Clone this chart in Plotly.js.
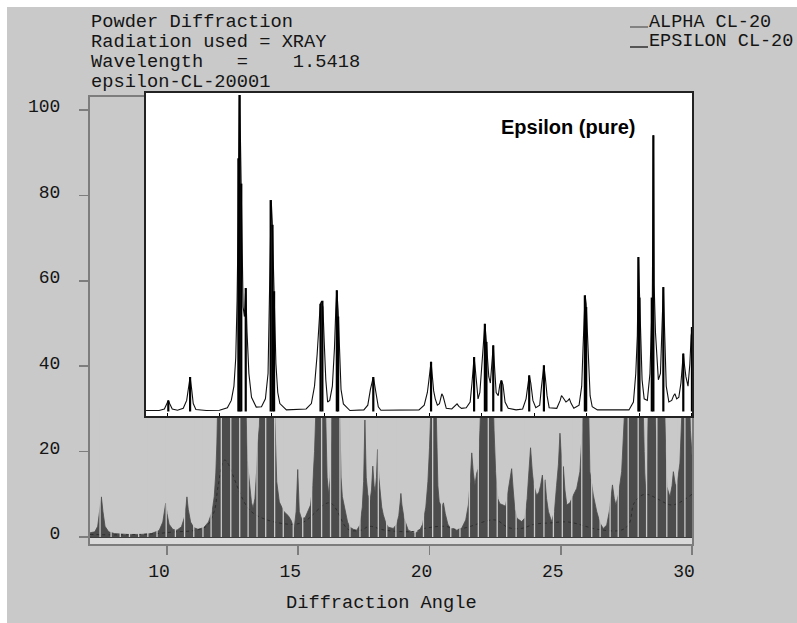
<!DOCTYPE html>
<html>
<head>
<meta charset="utf-8">
<script src="https://cdn.plot.ly/plotly-3.0.1.min.js"></script>
<style>html,body{margin:0;padding:0;background:#fff;}#chart{width:797px;height:623px;}</style>
</head>
<body>
<div id="chart"></div>
<script>
// ---------------- DATA ----------------
// Main measured pattern (grey filled profile), 2-theta vs intensity
const mainX = [7.07,7.25,7.36,7.44,7.50,7.56,7.64,7.78,8.00,8.50,9.00,9.40,9.70,9.84,9.91,9.95,10.00,10.08,10.22,10.38,
  10.55,10.66,10.72,10.76,10.81,10.90,11.02,11.18,11.40,11.58,11.72,11.80,11.86,11.90,11.96,12.10,12.30,12.45,12.55,12.75,
  12.95,13.02,13.06,13.10,13.15,13.22,13.28,13.35,13.41,13.46,13.52,13.58,13.80,14.02,14.10,14.14,14.18,14.28,14.45,14.62,
  14.72,14.85,14.92,14.98,15.04,15.12,15.26,15.40,15.47,15.55,15.62,15.70,15.85,15.95,16.05,16.10,16.16,16.22,16.28,16.45,
  16.58,16.63,16.68,16.78,16.88,16.97,17.10,17.23,17.35,17.44,17.49,17.54,17.59,17.65,17.73,17.79,17.84,17.89,17.93,17.98,
  18.02,18.07,18.12,18.18,18.24,18.34,18.43,18.62,18.75,18.83,18.88,18.91,18.95,19.03,19.19,19.45,19.62,19.74,19.86,19.94,
  20.00,20.08,20.20,20.28,20.32,20.37,20.46,20.53,20.60,20.70,20.80,21.04,21.22,21.38,21.48,21.55,21.61,21.67,21.73,21.80,
  21.86,21.92,22.02,22.12,22.22,22.30,22.40,22.46,22.52,22.60,22.68,22.80,22.90,23.00,23.08,23.13,23.19,23.25,23.33,23.51,
  23.64,23.72,23.77,23.85,23.92,23.98,24.08,24.17,24.23,24.30,24.35,24.40,24.46,24.53,24.65,24.76,24.84,24.91,24.97,25.02,
  25.07,25.10,25.16,25.23,25.35,25.48,25.61,25.73,25.82,25.95,26.05,26.11,26.24,26.37,26.50,26.62,26.75,26.85,26.92,26.97,
  27.04,27.10,27.20,27.32,27.42,27.60,27.80,27.90,27.97,28.05,28.18,28.22,28.28,28.35,28.50,28.62,28.66,28.72,28.90,29.00,
  29.04,29.16,29.24,29.29,29.36,29.42,29.54,29.62,29.72,29.82,29.88,29.94,30.00];
const mainY = [1.0,1.2,2.5,6.0,9.4,6.0,2.5,1.2,0.8,0.6,0.6,0.8,1.5,3.5,6.0,7.9,5.5,3.0,1.8,1.6,
  2.4,4.5,7.0,9.4,6.5,3.5,2.2,1.8,2.2,3.5,6.0,9.5,15,22,40,60,55,40,60,100,
  45,28,18,15.3,12.5,8.0,6.8,9.0,15,22,26,40,70,60,30,18,13,8.2,6.0,5.0,
  4.0,2.2,6,15.8,6,4.4,4.5,6.5,7.5,12,20,35,60,55,30,14,10,14,30,60,
  30,14,9.5,6.5,3.5,2.3,1.8,1.6,2.8,7,13,27.4,14,10,8.3,11,16.6,12,10.6,14,
  20.5,14,10,7,5.2,3.2,2.3,2.0,3.0,5.0,8.0,10.2,7.5,4.4,1.6,0.9,1.5,3.0,7.0,13,
  20.9,35,45,25,12,8.3,7.0,8.0,5.5,3.0,2.0,1.6,2.0,4.0,7.5,13,19.7,15,12.2,15,
  16,25,45,50,35,45,40,25,15.3,9.0,7.8,7.5,7.2,11,14,16,11,6.5,4.4,3.6,
  4.5,9,13.8,20.9,15,12,9.8,10.5,12,14.5,12.5,13.4,9,6,3.6,6,12,16.9,24.3,18,
  15,16.5,11,7.5,8.0,9.8,11.4,15.3,25,45,35,15.3,9.8,6.0,3.2,2.0,2.8,6,10,12.2,
  9,7.5,10,15.3,28,45,55,35,30,55,20,11,16,35,60,30,16.4,40,45,20,
  11.8,9.4,12,15.3,12.5,11.8,17.3,30,45,30,40,25,19];

// Alpha CL-20 reference curve (dashed, visible in the valleys)
const alphaX = [7.07,8.00,9.00,9.60,10.30,11.00,11.50,11.80,11.95,12.20,13.20,14.60,15.20,16.20,16.90,17.40,17.70,18.30,19.40,19.80,
  20.60,21.00,21.40,22.50,23.00,23.50,24.00,24.60,25.30,26.40,27.30,27.60,27.80,28.20,29.20,29.50,30.00];
const alphaY = [0.6,0.5,0.6,0.8,1.2,1.5,2.5,6.0,12,18,6,3.0,3.5,8,1.8,1.6,2.5,1.6,1.3,2.0,
  2.5,1.8,2.2,4,2.2,2.0,3.0,3.3,3.5,1.8,1.6,3.0,8,10,7.5,8,10];

// Light vertical stripes across the grey profile
const stripeX = [7.45,7.87,8.22,8.57,8.92,9.27,9.62,9.97,10.32,10.67,11.02,11.37,11.68,12.07,12.43,12.77,13.09,13.43,13.76,14.10,
  14.43,14.81,15.17,15.51,15.89,16.23,16.59,16.97,17.35,17.71,18.05,18.37,18.72,19.07,19.45,19.77,20.12,20.46,20.81,21.16,
  21.52,21.86,22.24,22.58,22.94,23.30,23.64,24.00,24.36,24.72,25.06,25.42,25.80,26.18,26.50,26.88,27.19,27.57,27.95,28.27,
  28.66,29.04,29.42,29.73];

// Inset: Epsilon (pure) calculated profile
const insetX = [9.16,9.70,9.90,10.00,10.05,10.10,10.20,10.40,10.62,10.75,10.82,10.88,10.94,11.00,11.10,11.50,12.00,12.30,12.45,12.55,
  12.62,12.67,12.71,12.75,12.80,12.85,12.90,12.95,13.00,13.05,13.12,13.22,13.40,13.60,13.75,13.85,13.90,13.94,13.97,14.01,
  14.05,14.09,14.15,14.22,14.30,14.55,15.30,15.50,15.62,15.72,15.79,15.84,15.89,15.94,15.99,16.05,16.12,16.20,16.30,16.38,
  16.43,16.47,16.52,16.57,16.63,16.72,16.97,17.50,17.65,17.75,17.82,17.86,17.90,17.96,18.05,18.15,19.60,19.80,19.92,19.98,
  20.03,20.06,20.10,20.16,20.22,20.30,20.38,20.43,20.47,20.52,20.56,20.64,20.85,20.98,21.05,21.12,21.22,21.40,21.55,21.62,
  21.66,21.70,21.74,21.79,21.85,21.92,21.98,22.04,22.08,22.11,22.15,22.20,22.26,22.32,22.37,22.43,22.48,22.54,22.62,22.68,
  22.74,22.80,22.88,23.00,23.30,23.55,23.68,23.74,23.80,23.86,23.94,24.05,24.20,24.27,24.33,24.36,24.41,24.48,24.56,24.85,
  24.98,25.03,25.08,25.13,25.20,25.28,25.33,25.40,25.50,25.70,25.80,25.85,25.89,25.93,25.97,26.02,26.06,26.12,26.20,26.40,
  27.60,27.77,27.86,27.92,27.96,28.00,28.05,28.10,28.18,28.30,28.40,28.45,28.49,28.53,28.56,28.61,28.66,28.72,28.80,28.86,
  28.91,28.96,29.02,29.12,29.23,29.30,29.35,29.42,29.50,29.58,29.64,29.67,29.71,29.77,29.85,29.92,29.97,30.02];
const insetY = [0.3,0.3,0.8,2.5,3.5,2.5,0.8,0.4,1.0,3.5,7,10.9,7,2.5,0.6,0.3,0.4,1.2,3.5,8,
  17,35,60,100,85,55,33,30,39,25,12,4.5,1.4,1.5,4,12,31,55,66.8,60,
  45,30,15,6,2.5,0.5,0.8,2.5,8,18,28,34,34.8,33,22,10,3,3.5,8,20,
  32,38.3,32,18,7,2.4,0.3,0.5,2,7,10,10.9,9,5.5,1.5,0.4,0.5,2,6,10,
  14,15.7,12,6.5,4,2,2.5,4.5,5.6,4.8,3.5,1,0.8,2,2.4,1.6,1.0,1.2,3,9,
  14,17.2,14,8,4,6,14,19,24,27.7,24,18,11,9,16,20.9,14,6,5,8.5,
  9.8,8.5,3,1,0.5,0.8,4,8.8,11.4,9,3.5,1.2,2,8,12,14.6,11,5,1.2,1,
  3.5,5,4.5,4.0,3,3.5,4,2.5,1.0,2,8,20,30,36.7,34,25,15,5,1.5,0.5,
  0.5,3,12,24,48.8,36,22,10,4,3.5,12,25,36,87.3,40,25,19,10,12,25,
  39.3,25,8,3,3.5,5,5.6,4,4.5,9,15,18.3,15,11,8,15,24,26.7];

// Inset: reflection sticks (position, height)
const stickX = [10.05,10.88,12.72,12.77,12.83,13.00,13.95,14.02,14.08,15.85,15.92,16.47,16.52,17.86,20.06,21.70,22.11,22.17,22.43,22.74,
  23.80,24.36,25.92,25.97,27.96,28.00,28.47,28.53,28.91,29.67,30.00];
const stickH = [3.5,10.9,80,100,72,39,66.8,59,38,34,35,38.3,30,10.9,15.7,17.2,27.7,22,20.9,9.8,
  11.4,14.6,36.7,33,48.8,36,36,87.3,39.3,18.3,26.7];

const xTickVals = [10,15,20,25,30];
const yTickVals = [0,20,40,60,80,100];
const headerLines = ['Powder Diffraction','Radiation used = XRAY','Wavelength   =    1.5418','epsilon-CL-20001'];
const legendLabels = ['ALPHA CL-20','EPSILON CL-20'];
const insetLabel = 'Epsilon (pure)';
const xTitle = 'Diffraction Angle';

// ---------------- LAYOUT CONSTANTS ----------------
const W = 797, H = 623;
const M = {l: 90, r: 104, t: 92, b: 79};
const PW = W - M.l - M.r, PH = H - M.t - M.b;
const px2fx = px => (px - M.l) / PW;
const py2fy = py => (M.t + PH - py) / PH;

const xRange = [7.067, 30.0];
const yRange = [-1.64, 103.04];
const x2Range = [9.162, 30.04];
const y2Range = [-1.74, 100.95];
const STRIPE_TOP = 30;

const BG = '#c9c9c9';
const FILL = '#4c4c4c';
const AXIS = '#7d7d7d';
const MONO = 'Liberation Mono, DejaVu Sans Mono, monospace';

function segments(xs, hs) {
  const x = [], y = [];
  xs.forEach((p, i) => { x.push(p, p, null); y.push(0, Array.isArray(hs) ? hs[i] : hs, null); });
  return {x, y};
}
const stripes = segments(stripeX, STRIPE_TOP);
const sticks = segments(stickX, stickH);

const traces = [
  {x: mainX, y: mainY, type: 'scatter', mode: 'lines', fill: 'tozeroy', fillcolor: FILL,
   line: {color: FILL, width: 0.8}, xaxis: 'x', yaxis: 'y', name: 'measured', showlegend: false},
  {x: alphaX, y: alphaY, type: 'scatter', mode: 'lines', line: {color: '#2e2e2e', width: 1, dash: '3px,3px', shape: 'spline'},
   xaxis: 'x', yaxis: 'y', name: legendLabels[0], showlegend: false},
  {x: stripes.x, y: stripes.y, type: 'scatter', mode: 'lines', line: {color: BG, width: 1.3},
   xaxis: 'x', yaxis: 'y', name: 'stripes', showlegend: false, connectgaps: false},
  {x: insetX, y: insetY, type: 'scatter', mode: 'lines', line: {color: '#111', width: 1.1},
   xaxis: 'x2', yaxis: 'y2', name: legendLabels[1], showlegend: false},
  {x: sticks.x, y: sticks.y, type: 'scatter', mode: 'lines', line: {color: '#000', width: 2.2},
   xaxis: 'x2', yaxis: 'y2', name: 'sticks', showlegend: false, connectgaps: false}
];

const mainXDomEnd = (692 - M.l) / PW;
const mainYDomEnd = py2fy(97);

const annotations = [];
const headerY = [22, 42, 62, 82];
headerLines.forEach((t, i) => annotations.push({
  text: t.replace(/ /g, '\u00a0'), xref: 'paper', yref: 'paper', x: px2fx(89), y: py2fy(headerY[i]),
  xanchor: 'left', yanchor: 'middle', showarrow: false, font: {family: MONO, size: 18.7, color: '#151515'}
}));
const legendY = [22, 42];
legendLabels.forEach((t, i) => annotations.push({
  text: t.replace(/ /g, '\u00a0'), xref: 'paper', yref: 'paper', x: px2fx(647), y: py2fy(legendY[i]),
  xanchor: 'left', yanchor: 'middle', showarrow: false, font: {family: MONO, size: 18.5, color: '#151515'}
}));
annotations.push({
  text: '<b>' + insetLabel + '</b>', xref: 'paper', yref: 'paper', x: px2fx(568), y: py2fy(127),
  xanchor: 'center', yanchor: 'middle', showarrow: false, font: {family: 'Liberation Sans, Arial, sans-serif', size: 20, color: '#000'}
});
annotations.push({
  text: xTitle.replace(/ /g, '\u00a0'), xref: 'paper', yref: 'paper', x: px2fx(381), y: py2fy(603),
  xanchor: 'center', yanchor: 'middle', showarrow: false, font: {family: MONO, size: 18.7, color: '#151515'}
});

const shapes = [
  // grey panel (white frame strip at top/left)
  {type: 'rect', xref: 'paper', yref: 'paper', x0: px2fx(7), x1: px2fx(W), y0: py2fy(H), y1: py2fy(7),
   fillcolor: BG, line: {width: 0}, layer: 'below'},
  // light band under the zero line
  {type: 'rect', xref: 'x', yref: 'y', x0: xRange[0], x1: xRange[1], y0: yRange[0], y1: 0,
   fillcolor: '#dadada', line: {width: 0}, layer: 'below'},
  // white inset background
  {type: 'rect', xref: 'x2', yref: 'y2', x0: x2Range[0], x1: x2Range[1], y0: y2Range[0], y1: y2Range[1],
   fillcolor: '#ffffff', line: {width: 0}, layer: 'below'},
  // inset frame
  {type: 'rect', xref: 'paper', yref: 'paper', x0: px2fx(145), x1: 1, y0: py2fy(417), y1: 1,
   fillcolor: 'rgba(0,0,0,0)', line: {color: '#222', width: 2}, layer: 'above'},
  // legend line samples
  {type: 'line', xref: 'paper', yref: 'paper', x0: px2fx(630), x1: px2fx(648), y0: py2fy(27), y1: py2fy(27),
   line: {color: '#6a6a6a', width: 1.5}},
  {type: 'line', xref: 'paper', yref: 'paper', x0: px2fx(630), x1: px2fx(648), y0: py2fy(47), y1: py2fy(47),
   line: {color: '#555', width: 2}}
];

const layout = {
  width: W, height: H, margin: M,
  paper_bgcolor: '#ffffff', plot_bgcolor: BG,
  showlegend: false,
  xaxis: {domain: [0, mainXDomEnd], range: xRange, anchor: 'y', tickvals: xTickVals, ticks: 'outside', ticklen: 9,
    tickwidth: 1.5, tickcolor: AXIS, showline: true, linecolor: AXIS, linewidth: 2, mirror: true, showgrid: false,
    zeroline: false, ticklabelshift: -8, tickfont: {family: MONO, size: 18, color: '#151515'}},
  yaxis: {domain: [0, mainYDomEnd], range: yRange, anchor: 'x', tickvals: yTickVals, ticks: 'outside', ticklen: 9,
    tickwidth: 1.5, tickcolor: AXIS, showline: true, linecolor: AXIS, linewidth: 2, mirror: true, showgrid: false,
    zeroline: true, zerolinecolor: '#3c3c3c', zerolinewidth: 1.5, ticklabelstandoff: 15, ticklabelshift: -4,
    tickfont: {family: MONO, size: 18, color: '#151515'}},
  xaxis2: {domain: [px2fx(145), 1], range: x2Range, anchor: 'free', position: py2fy(411.5), dtick: 2, tick0: 0,
    ticks: 'outside', ticklen: 4, tickwidth: 1, tickcolor: '#000', showticklabels: false, showline: false,
    showgrid: false, zeroline: false},
  yaxis2: {domain: [py2fy(417), 1], range: y2Range, anchor: 'x2', showticklabels: false, ticks: '', showline: false,
    showgrid: false, zeroline: false},
  annotations, shapes
};

Plotly.newPlot('chart', traces, layout, {staticPlot: true, displayModeBar: false});
</script>
</body>
</html>
